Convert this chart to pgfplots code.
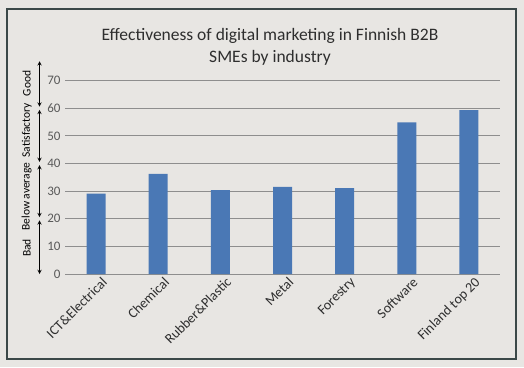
\documentclass[border=0pt]{standalone}
\usepackage{pgfplots}
\pgfplotsset{compat=1.18}
\usepackage{fontspec}
\setmainfont{Carlito}
\definecolor{bg}{HTML}{E8E6E3}
\definecolor{frame}{HTML}{3B4848}
\definecolor{barblue}{HTML}{4A78B5}
\definecolor{gridgrey}{HTML}{8E8E8E}
\definecolor{ticktext}{HTML}{595959}
\definecolor{titletext}{HTML}{2E2E2E}
\begin{document}
\begin{tikzpicture}[x=1bp,y=1bp]
\useasboundingbox (0,0) rectangle (524,367);
\fill[bg] (0,0) rectangle (524,367);
\draw[frame, line width=1.1bp] (7,8) rectangle (516,358);
\node[align=center, font=\fontsize{17.5bp}{22bp}\selectfont, text=titletext] at (270,320) {Effectiveness of digital marketing in Finnish B2B\\SMEs by industry};
\begin{axis}[
  at={(65bp,93bp)}, anchor=south west,
  scale only axis, width=435bp, height=193.4bp,
  xmin=-0.5, xmax=6.5, ymin=0, ymax=70,
  ytick={0,10,...,70},
  xtick={0,...,6},
  xticklabels={ICT\&Electrical,Chemical,Rubber\&Plastic,Metal,Forestry,Software,Finland top 20},
  xticklabel style={rotate=45, anchor=north east, font=\fontsize{14bp}{16bp}\selectfont, text=titletext, inner sep=1bp, xshift=3bp, yshift=-4bp},
  yticklabel style={font=\fontsize{13bp}{15bp}\selectfont, text=ticktext, xshift=-1bp},
  /pgf/number format/assume math mode=true,
  ymajorgrids, grid style={gridgrey, line width=0.8bp},
  axis line style={draw=none},
  major tick length=0pt,
  clip=false,
  ybar, bar width=19bp,
]
\addplot[fill=barblue, draw=none] coordinates {(0,29.1) (1,36.2) (2,30.4) (3,31.5) (4,31.1) (5,54.9) (6,59.3)};
\draw[<->, >=stealth, line width=0.9bp] (axis cs:-0.91,0) -- (axis cs:-0.91,19.4);
\draw[<->, >=stealth, line width=0.9bp] (axis cs:-0.91,20.6) -- (axis cs:-0.91,39.4);
\draw[<->, >=stealth, line width=0.9bp] (axis cs:-0.91,40.6) -- (axis cs:-0.91,59.4);
\draw[<->, >=stealth, line width=0.9bp] (axis cs:-0.91,60.6) -- (axis cs:-0.91,77);
\node[rotate=90, font=\fontsize{11.5bp}{13bp}\selectfont] at (axis cs:-1.116,9.4) {Bad};
\node[rotate=90, font=\fontsize{11.5bp}{13bp}\selectfont] at (axis cs:-1.116,28) {Below average};
\node[rotate=90, font=\fontsize{11.5bp}{13bp}\selectfont] at (axis cs:-1.116,52) {Satisfactory};
\node[rotate=90, font=\fontsize{11.5bp}{13bp}\selectfont] at (axis cs:-1.116,69) {Good};
\end{axis}
\end{tikzpicture}
\end{document}
